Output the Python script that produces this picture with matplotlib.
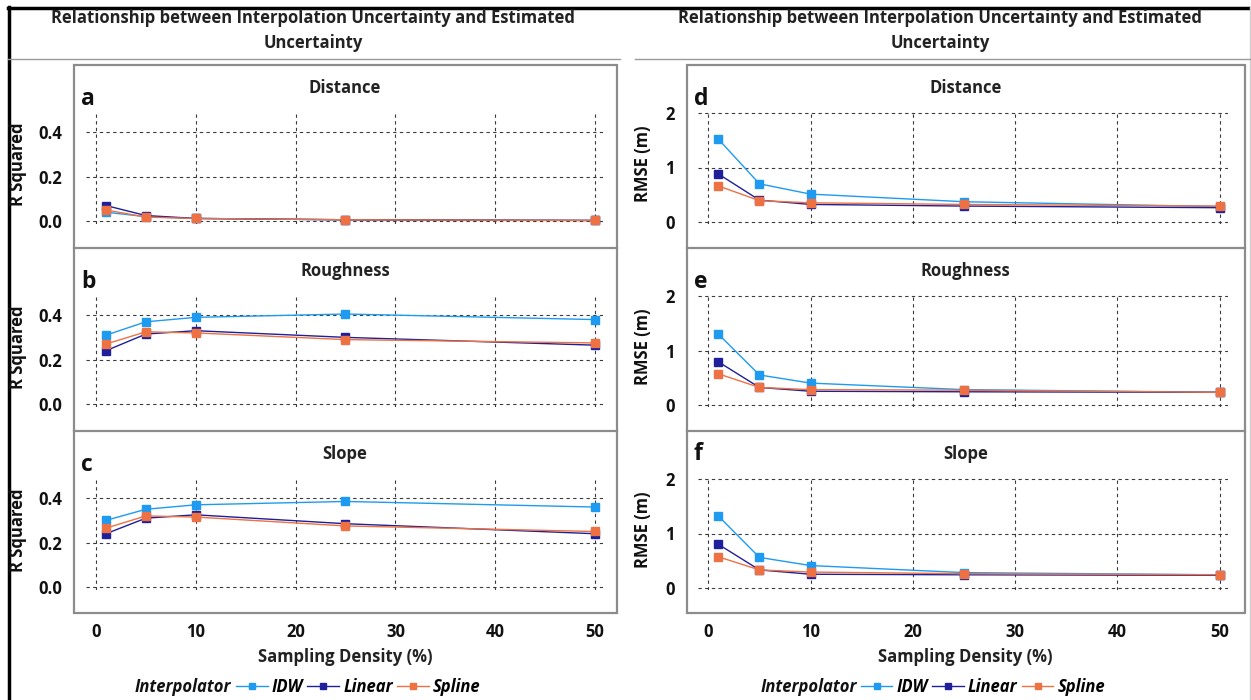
import matplotlib
matplotlib.use("Agg")
from matplotlib import pyplot as plt
from matplotlib.lines import Line2D
from matplotlib.patches import Rectangle

plt.rcParams['font.family'] = ['Open Sans', 'DejaVu Sans']

# sampling density (%)
density = [1, 5, 10, 25, 50]
interpolators = ['IDW', 'Linear', 'Spline']
colors = ['#1E9BF0', '#1F1F9A', '#EE7143']
factors = ['Distance', 'Roughness', 'Slope']

# R squared, panels a-c
r2_distance = {'IDW': [0.04, 0.02, 0.012, 0.006, 0.003],
               'Linear': [0.07, 0.025, 0.012, 0.006, 0.003],
               'Spline': [0.05, 0.018, 0.012, 0.006, 0.003]}
r2_roughness = {'IDW': [0.31, 0.37, 0.39, 0.405, 0.38],
                'Linear': [0.24, 0.315, 0.33, 0.30, 0.265],
                'Spline': [0.27, 0.325, 0.32, 0.29, 0.275]}
r2_slope = {'IDW': [0.30, 0.35, 0.37, 0.385, 0.36],
            'Linear': [0.24, 0.31, 0.325, 0.285, 0.24],
            'Spline': [0.265, 0.32, 0.315, 0.275, 0.25]}

# RMSE (m), panels d-f
rmse_distance = {'IDW': [1.52, 0.70, 0.51, 0.37, 0.28],
                 'Linear': [0.88, 0.40, 0.32, 0.29, 0.26],
                 'Spline': [0.66, 0.39, 0.35, 0.32, 0.29]}
rmse_roughness = {'IDW': [1.30, 0.55, 0.40, 0.28, 0.23],
                  'Linear': [0.79, 0.32, 0.25, 0.24, 0.23],
                  'Spline': [0.57, 0.32, 0.28, 0.27, 0.23]}
rmse_slope = {'IDW': [1.32, 0.56, 0.41, 0.28, 0.24],
              'Linear': [0.80, 0.33, 0.25, 0.24, 0.23],
              'Spline': [0.57, 0.33, 0.29, 0.26, 0.24]}

W, H = 1251, 700
fig = plt.figure(figsize=(W / 100, H / 100), dpi=100)


def fx(x):
    return x / W


def fy(y):
    return 1 - y / H


def hline(x0, x1, y, color, lw):
    fig.add_artist(Line2D([fx(x0), fx(x1)], [fy(y), fy(y)], color=color, lw=lw,
                          transform=fig.transFigure))


def vline(x, y0, y1, color, lw):
    fig.add_artist(Line2D([fx(x), fx(x)], [fy(y0), fy(y1)], color=color, lw=lw,
                          transform=fig.transFigure))


# outer frame
hline(8, W, 7.5, 'black', 2.5)
vline(8.5, 7, H, 'black', 2.5)
vline(1249.5, 7, H, '#cfcfcf', 1.0)
hline(8, 620, 59, '#9a9a9a', 1.0)
hline(635, W, 59, '#9a9a9a', 1.0)

title1 = 'Relationship between Interpolation Uncertainty and Estimated'
title2 = 'Uncertainty'
tops = [65, 248, 431]
box_bottom = 613
FS = 12

columns = [
    dict(data=[r2_distance, r2_roughness, r2_slope], letters='abc',
         box=(73.5, 616.5), ax_x=(86, 603), ylim=(-0.013, 0.495),
         yticks=[0.0, 0.2, 0.4], yfmt='{:.1f}', ylabel='R Squared',
         ylabel_x=18, title_x=313, letter_x=81, leg_off=(-114, -109)),
    dict(data=[rmse_distance, rmse_roughness, rmse_slope], letters='def',
         box=(686.5, 1245), ax_x=(698, 1228), ylim=(-0.04, 2.04),
         yticks=[0, 1, 2], yfmt='{:.0f}', ylabel='RMSE (m)',
         ylabel_x=643, title_x=940, letter_x=694, leg_off=(-109, -105)),
]

for col in columns:
    fig.text(fx(col['title_x']), fy(18), title1, ha='center', va='center',
             fontsize=FS, fontweight='bold', color='#222222')
    fig.text(fx(col['title_x']), fy(43), title2, ha='center', va='center',
             fontsize=FS, fontweight='bold', color='#222222')
    bx0, bx1 = col['box']
    fig.add_artist(Rectangle((fx(bx0), fy(box_bottom)), fx(bx1) - fx(bx0),
                             fy(tops[0]) - fy(box_bottom), fill=False,
                             edgecolor='#8c8c8c', lw=1.6, transform=fig.transFigure))
    for t in tops[1:]:
        hline(bx0, bx1, t, '#8c8c8c', 1.6)

    lines = []
    for i, (t, series) in enumerate(zip(tops, col['data'])):
        x0, x1 = col['ax_x']
        ax = fig.add_axes([fx(x0), fy(t + 159), fx(x1) - fx(x0), fy(t + 46) - fy(t + 159)])
        ax.set_facecolor('none')
        for name, c in zip(interpolators, colors):
            ln, = ax.plot(density, series[name], color=c, lw=1.0, marker='s',
                          markersize=5.5, label=name, clip_on=False)
            if i == 0:
                lines.append(ln)
        ax.set_xlim(-1.0, 50.8)
        ax.set_ylim(*col['ylim'])
        ax.set_xticks([0, 10, 20, 30, 40, 50])
        ax.set_yticks(col['yticks'])
        ax.set_yticklabels([col['yfmt'].format(v) for v in col['yticks']])
        ax.grid(True, color='#3a3a3a', lw=0.8, linestyle=(0, (3, 3)))
        ax.set_axisbelow(True)
        for s in ax.spines.values():
            s.set_visible(False)
        ax.tick_params(length=0, labelsize=FS, pad=17, colors='#111111')
        for lab in ax.get_yticklabels() + ax.get_xticklabels():
            lab.set_fontweight('bold')
        if i < 2:
            ax.tick_params(axis='x', labelbottom=False)
        else:
            ax.tick_params(axis='x', pad=24)
        # facet label, panel letter and y label
        fig.text(fx((bx0 + bx1) / 2), fy(t + 23), factors[i], ha='center', va='center',
                 fontsize=FS, fontweight='bold', color='#222222')
        ly = t + 34 if col['letters'][i] != 'f' else t + 23
        fig.text(fx(col['letter_x']), fy(ly), col['letters'][i], ha='left', va='center',
                 fontsize=16.5, fontweight='bold', color='#111111')
        fig.text(fx(col['ylabel_x']), fy(t + 99), col['ylabel'], ha='center', va='center',
                 rotation=90, fontsize=FS, fontweight='bold', color='#111111')

    cx = (bx0 + bx1) / 2
    fig.text(fx(cx), fy(657), 'Sampling Density (%)', ha='center', va='center',
             fontsize=FS, fontweight='bold', color='#222222')
    fig.text(fx(cx + col['leg_off'][0]), fy(687), 'Interpolator', ha='right', va='center',
             fontsize=FS, fontweight='bold', style='italic', color='#111111')
    fig.legend(handles=lines, labels=interpolators, ncol=3, loc='center left',
               bbox_to_anchor=(fx(cx + col['leg_off'][1]), fy(687)), frameon=False,
               prop=dict(size=FS, weight='bold', style='italic'),
               handlelength=1.9, handletextpad=0.25, columnspacing=0.25,
               borderpad=0, borderaxespad=0, markerscale=0.85)

fig.savefig('out.png', dpi=100)
